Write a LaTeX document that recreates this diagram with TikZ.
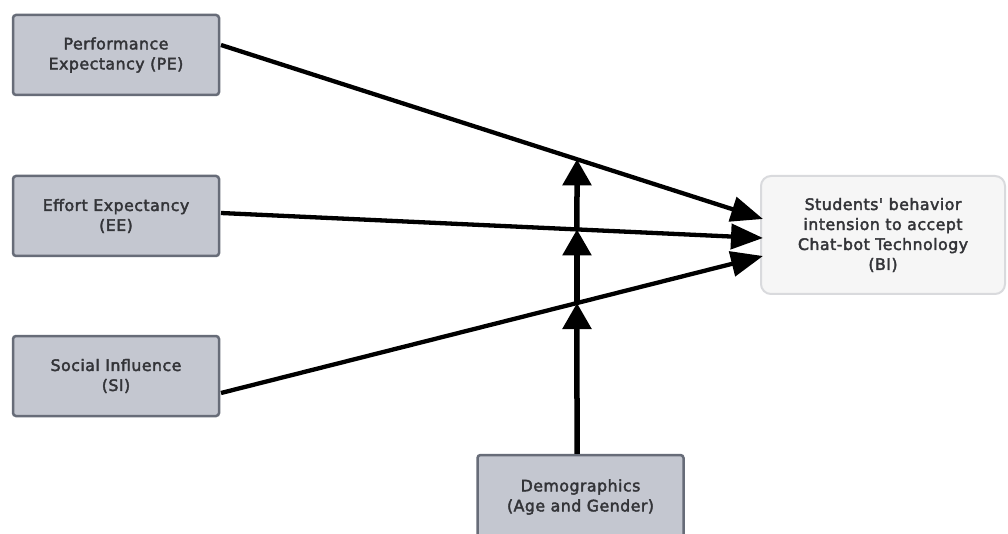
\documentclass[tikz,border=0pt]{standalone}
\usepackage{fontspec}
\newfontfamily\diagfont{DejaVu Sans}[LetterSpace=3,FakeBold=2.5]
\usetikzlibrary{arrows.meta}
\definecolor{boxfill}{HTML}{C4C7D0}
\definecolor{boxline}{HTML}{676C78}
\definecolor{bifill}{HTML}{F6F6F6}
\definecolor{biline}{HTML}{D9DADD}
\definecolor{txt}{HTML}{333438}
\begin{document}
\begin{tikzpicture}[x=1pt,y=-1pt,
  construct/.style={draw=boxline, fill=boxfill, line width=2.5pt, rounded corners=3pt,
    minimum width=206pt, minimum height=80pt, align=center, text=txt,
    font=\diagfont\fontsize{15.8}{20}\selectfont},
  outcome/.style={draw=biline, fill=bifill, line width=2pt, rounded corners=10pt,
    minimum width=244pt, minimum height=118pt, align=center, text=txt,
    font=\diagfont\fontsize{15.8}{20}\selectfont},
  path/.style={line width=4.3pt, -{Triangle[length=32pt,width=25pt]}},
  modpath/.style={line width=5.5pt, -{Triangle[length=26pt,width=28pt]}}]
\useasboundingbox (0,0) rectangle (1008,534);
\clip (0,0) rectangle (1008,534);
\fill[white] (0,0) rectangle (1008,534);

% constructs
\node[construct] (pe) at (116,55) {Performance\\Expectancy (PE)};
\node[construct] (ee) at (116,216) {Effort Expectancy\\(EE)};
\node[construct] (si) at (116,376) {Social Influence\\(SI)};
\node[construct, minimum height=84pt] (dem) at (580.5,497) {Demographics\\(Age and Gender)};
\node[outcome] (bi) at (883,235) {Students' behavior\\intension to accept\\Chat-bot Technology\\(BI)};

% end points of the direct paths
\coordinate (pes) at (221,45);
\coordinate (pet) at (763,219);
\coordinate (ees) at (221,213);
\coordinate (eet) at (763,238);
\coordinate (sis) at (221,393);
\coordinate (sit) at (763,256);
\coordinate (mbase) at (577,455);
\coordinate (mtop) at (577,100);

% moderation points on each direct path
\coordinate (m1) at (intersection of pes--pet and mbase--mtop);
\coordinate (m2) at (intersection of ees--eet and mbase--mtop);
\coordinate (m3) at (intersection of sis--sit and mbase--mtop);

% direct paths
\draw[path] (pes) -- (pet);
\draw[path] (ees) -- (eet);
\draw[path] (sis) -- (sit);

% moderating effect of demographics
\draw[modpath] (dem.north -| mbase) -- (m3);
\draw[modpath] (m3) -- (m2);
\draw[modpath] (m2) -- (m1);
\end{tikzpicture}
\end{document}
